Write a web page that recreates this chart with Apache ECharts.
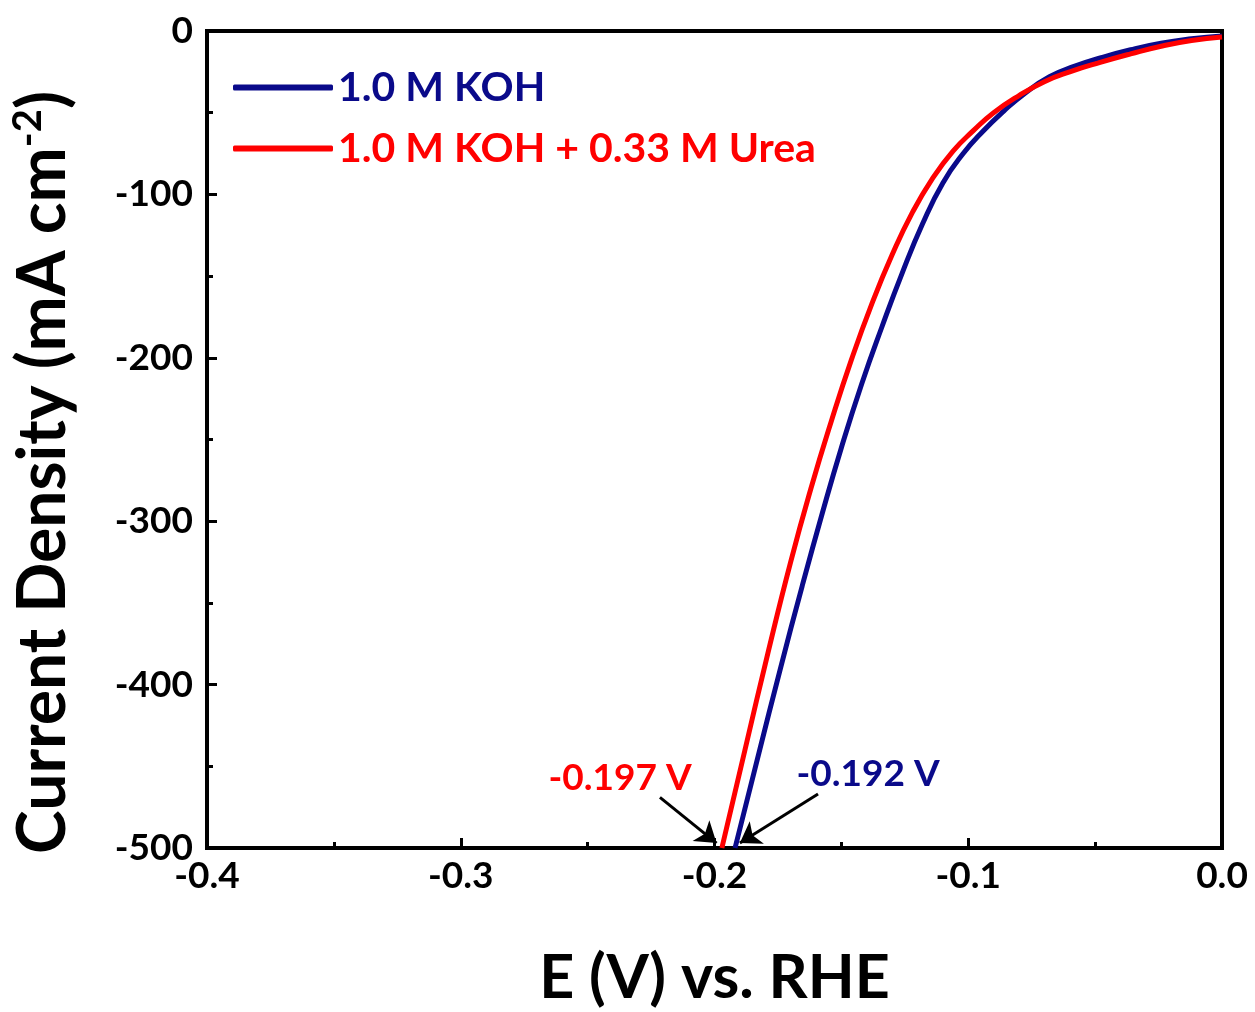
<!DOCTYPE html>
<html>
<head>
<meta charset="utf-8">
<script src="https://cdn.jsdelivr.net/npm/echarts@6/dist/echarts.min.js"></script>
<style>
  html, body { margin: 0; padding: 0; background: #fff; }
  #chart { width: 1255px; height: 1012px; }
</style>
</head>
<body>
<div id="chart"></div>
<script>
// potential (V vs. RHE) and current density (mA cm-2)
const potKOH = [-0.1919, -0.1830, -0.1740, -0.1655, -0.1575, -0.1500, -0.1420, -0.1340, -0.1260, -0.1180, -0.1100, -0.1020, -0.0940, -0.0860, -0.0780, -0.0680, -0.0580, -0.0480, -0.0360, -0.0240, -0.0120, 0.0];
const curKOH = [-500, -445, -390, -340, -295, -255, -216, -181, -148, -118, -93, -75, -61, -49, -38.5, -28, -21.5, -16.5, -11.5, -7.5, -4.8, -3.0];
const potUrea = [-0.1971, -0.1880, -0.1790, -0.1700, -0.1620, -0.1540, -0.1460, -0.1380, -0.1300, -0.1220, -0.1140, -0.1060, -0.0980, -0.0900, -0.0800, -0.0700, -0.0600, -0.0480, -0.0360, -0.0240, -0.0120, 0.0];
const curUrea = [-500, -440, -381, -325, -280, -239, -201, -167, -137, -111, -90, -73.5, -61, -50, -39.5, -31, -25, -19.2, -14, -9.3, -5.8, -3.7];

const seriesNames = ['1.0 M KOH', '1.0 M KOH + 0.33 M Urea'];
const seriesColors = ['#0a0a8a', '#ff0000'];
const onsetLabels = ['-0.192 V', '-0.197 V'];

const font = 'Lato, "Open Sans", sans-serif';

const chart = echarts.init(document.getElementById('chart'));

function pairs(xs, ys) {
    return xs.map((x, i) => [x, ys[i]]);
}

chart.setOption({
    animation: false,
    textStyle: { fontFamily: font },
    grid: {
        left: 207, right: 33, top: 31, bottom: 164,
        outerBoundsMode: 'none',
        show: true, borderColor: '#000', borderWidth: 4
    },
    legend: {
        data: seriesNames.map((n, i) => ({ name: n, textStyle: { color: seriesColors[i] } })),
        left: 228, top: 62,
        orient: 'vertical',
        itemGap: 20,
        itemWidth: 100,
        itemHeight: 6,
        icon: 'roundRect',
        textStyle: { fontSize: 41, fontWeight: 'bold', fontFamily: font }
    },
    xAxis: {
        type: 'value',
        min: -0.4, max: 0, interval: 0.1,
        name: 'E (V) vs. RHE',
        nameLocation: 'middle',
        nameGap: 100,
        nameTextStyle: { fontSize: 61, fontWeight: 'bold', color: '#000', fontFamily: font },
        axisLine: { show: true, onZero: false, lineStyle: { color: '#000', width: 4 } },
        axisTick: { show: true, inside: true, length: 10, lineStyle: { color: '#000', width: 3 } },
        minorTick: { show: true, splitNumber: 2, length: 6, lineStyle: { color: '#000', width: 3 } },
        splitLine: { show: false },
        axisLabel: {
            fontSize: 37, fontWeight: 'bold', color: '#000', margin: 10, fontFamily: font,
            formatter: v => v.toFixed(1)
        }
    },
    yAxis: {
        type: 'value',
        min: -500, max: 0, interval: 100,
        name: 'Current Density (mA cm{sup|-2})',
        nameLocation: 'middle',
        nameGap: 127,
        nameTextStyle: {
            fontSize: 66, fontWeight: 'bold', color: '#000', fontFamily: font,
            padding: [0, 66, 0, 0],
            rich: { sup: { fontSize: 40, fontWeight: 'bold', color: '#000', fontFamily: font, padding: [0, 0, 32, 0] } }
        },
        axisLine: { show: true, onZero: false, lineStyle: { color: '#000', width: 4 } },
        axisTick: { show: true, inside: true, length: 10, lineStyle: { color: '#000', width: 3 } },
        minorTick: { show: true, splitNumber: 2, length: 6, lineStyle: { color: '#000', width: 3 } },
        splitLine: { show: false },
        axisLabel: { fontSize: 37, fontWeight: 'bold', color: '#000', margin: 14, fontFamily: font }
    },
    series: [
        {
            name: seriesNames[0],
            type: 'line',
            data: pairs(potKOH, curKOH),
            smooth: 0.5,
            showSymbol: false,
            color: seriesColors[0],
            lineStyle: { width: 5, color: seriesColors[0] },
            z: 2,
            markPoint: {
                symbol: 'circle', symbolSize: 0,
                label: { show: true, formatter: onsetLabels[0], color: seriesColors[0], fontSize: 37, fontWeight: 'bold', fontFamily: font, position: 'inside' },
                data: [{ coord: [-0.1395, -455] }]
            },
            markLine: {
                silent: true,
                symbol: ['none', 'arrow'],
                symbolSize: 20,
                label: { show: false },
                lineStyle: { color: '#000', width: 3, type: 'solid' },
                data: [[{ coord: [-0.1592, -467] }, { coord: [-0.1900, -497] }]]
            }
        },
        {
            name: seriesNames[1],
            type: 'line',
            data: pairs(potUrea, curUrea),
            smooth: 0.5,
            showSymbol: false,
            color: seriesColors[1],
            lineStyle: { width: 5, color: seriesColors[1] },
            z: 3,
            markPoint: {
                symbol: 'circle', symbolSize: 0,
                label: { show: true, formatter: onsetLabels[1], color: seriesColors[1], fontSize: 37, fontWeight: 'bold', fontFamily: font, position: 'inside' },
                data: [{ coord: [-0.2372, -457] }]
            },
            markLine: {
                silent: true,
                symbol: ['none', 'arrow'],
                symbolSize: 20,
                label: { show: false },
                lineStyle: { color: '#000', width: 3, type: 'solid' },
                data: [[{ coord: [-0.2215, -469] }, { coord: [-0.1992, -497] }]]
            }
        }
    ]
});
</script>
</body>
</html>
